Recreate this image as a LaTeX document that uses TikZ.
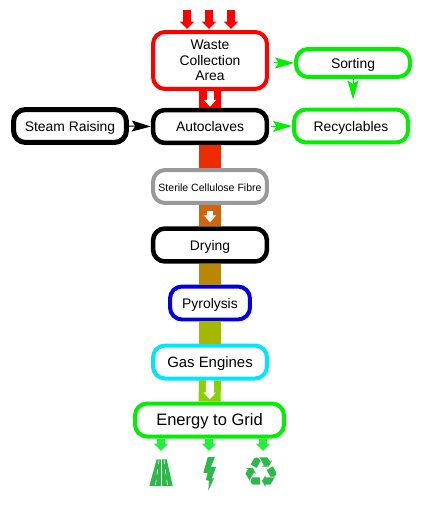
\documentclass[tikz,border=0pt]{standalone}
\usepackage{fontspec}
\setmainfont{Liberation Sans}
\newfontfamily\symbolfont{DejaVu Sans}
\usetikzlibrary{arrows.meta}
\definecolor{plantgreen}{HTML}{00F000}
\definecolor{icongreen}{HTML}{2DB84B}
\definecolor{arrowgreen}{HTML}{22F03C}
\definecolor{enginecyan}{HTML}{00E6FF}
\tikzset{
    flowbox/.style={draw, fill=white, rounded corners=0.24cm, line width=0.08cm, align=center, inner sep=0pt,
        font=\fontsize{7.9}{8.8}\selectfont, minimum width=2.28cm, minimum height=0.66cm},
    oneline/.style={text height=0.72em, text depth=0.1em},
    trunk/.style={line width=0.44cm},
    innerarrow/.style={white, line width=0.14cm, -{Triangle[length=0.14cm, width=0.24cm]}},
    feedarrow/.style={line width=0.17cm, -{Triangle[length=0.15cm, width=0.29cm]}},
    sidearrow/.style={line width=0.02cm, -{Stealth[length=0.38cm, width=0.22cm, inset=0.07cm]}}
}
\begin{document}
\begin{tikzpicture}[x=0.02cm, y=-0.02cm]
    \useasboundingbox (0,0) rectangle (422,513);

    % --- 1. main column ---
    \node[flowbox, draw=red, minimum height=1.14cm] (waste) at (210,60.5) {Waste\\Collection\\Area};
    \node[flowbox, oneline, line width=0.09cm] (autoclaves) at (210,126.5) {Autoclaves};
    \node[flowbox, oneline, draw=black!40, font=\fontsize{6}{7}\selectfont] (fibre) at (210,186.5) {Sterile Cellulose Fibre};
    \node[flowbox, oneline, line width=0.09cm] (drying) at (210,245) {Drying};
    \node[flowbox, oneline, draw=blue!90!black, minimum width=1.6cm] (pyrolysis) at (210,303) {Pyrolysis};
    \node[flowbox, oneline, draw=enginecyan, font=\fontsize{8.5}{10}\selectfont] (engines) at (210,362) {Gas Engines};
    \node[flowbox, oneline, draw=plantgreen, minimum width=2.98cm, font=\fontsize{9.4}{11}\selectfont] (grid) at (209.5,420) {Energy to Grid};

    % --- 2. side boxes ---
    \node[flowbox, oneline, draw=plantgreen, minimum height=0.56cm] (sorting) at (353,63) {Sorting};
    \node[flowbox, oneline, draw=plantgreen] (recyclables) at (351,126) {Recyclables};
    \node[flowbox, oneline, line width=0.1cm, minimum width=2.26cm] (steam) at (70,126) {Steam Raising};

    % --- 3. coloured trunk ---
    \draw[trunk, red] (waste) -- (autoclaves);
    \draw[trunk, color={rgb,255:red,236;green,44;blue,0}] (autoclaves) -- (fibre);
    \draw[trunk, color={rgb,255:red,208;green,101;blue,15}] (fibre) -- (drying);
    \draw[trunk, color={rgb,255:red,186;green,136;blue,0}] (drying) -- (pyrolysis);
    \draw[trunk, color={rgb,255:red,165;green,184;blue,0}] (pyrolysis) -- (engines);
    \draw[trunk, color={rgb,255:red,136;green,208;blue,0}] (engines) -- (grid);

    % white arrows inside the trunk
    \draw[innerarrow, shorten >=0.02cm] (waste) -- (autoclaves);
    \draw[innerarrow, line width=0.12cm, shorten <=0.12cm, shorten >=0.08cm] (fibre) -- (drying);
    \draw[innerarrow, line width=0.16cm, shorten >=0.04cm] (engines) -- (grid);

    % --- 4. side arrows ---
    \draw[sidearrow, plantgreen, shorten <=0.1cm] (waste.east |- sorting.west) -- (sorting.west);
    \draw[sidearrow, plantgreen, shorten >=0.16cm] (sorting.south) -- (sorting.south |- recyclables.north);
    \draw[sidearrow, plantgreen, shorten <=0.04cm] (autoclaves.east) -- (recyclables.west);
    \draw[sidearrow, black] (steam.east) -- (autoclaves.west);

    % --- 5. feed arrows on top and bottom ---
    \coordinate (feedA) at (187,10);
    \coordinate (feedB) at (209,10);
    \coordinate (feedC) at (231,10);
    \foreach \feed in {feedA,feedB,feedC}
        \draw[feedarrow, red, shorten >=0.02cm] (\feed) -- (\feed |- waste.north);

    \coordinate (road) at (161,451);
    \coordinate (bolt) at (209,451);
    \coordinate (recycle) at (263,451);
    \foreach \out in {road,bolt,recycle}
        \draw[feedarrow, arrowgreen, line width=0.16cm] (\out |- grid.south) -- (\out);

    % --- 6. icons ---
    % road
    \fill[icongreen] (149.3,486) -- (160.9,486) -- (161,459.3) -- (156.7,459.3) -- cycle;
    \fill[icongreen] (172.7,486) -- (162.1,486) -- (162,459.3) -- (166.7,459.3) -- cycle;
    \draw[white, line width=0.012cm, dashed] (155.5,485) -- (159,460);
    \draw[white, line width=0.012cm, dashed] (167.5,485) -- (164,460);
    % bolt
    \fill[icongreen] (207.7,457.3) -- (215,456.7) -- (211,466.7) -- (216,467.3) -- (211.7,478.3) -- (214,478.3)
        -- (208.3,490.7) -- (209,480.7) -- (205.7,480) -- (207.7,473.3) -- (203.3,472.7) -- cycle;
    % recycling sign
    \node[icongreen, inner sep=0pt, font=\symbolfont\fontsize{24}{24}\selectfont] (recyclesign) at (261,473) {♻};
\end{tikzpicture}
\end{document}
